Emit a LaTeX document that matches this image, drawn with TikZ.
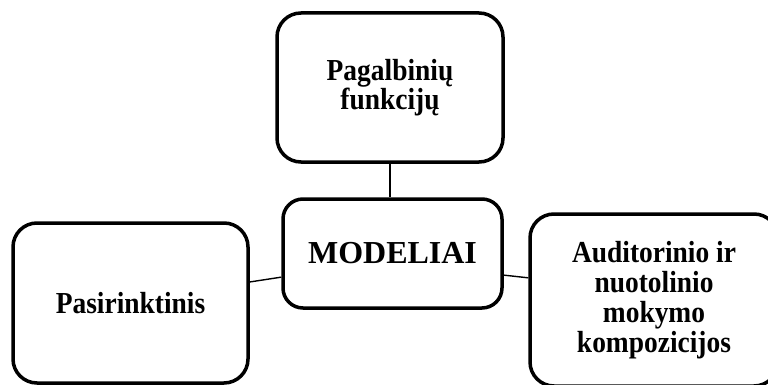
\documentclass[tikz,border=0pt]{standalone}
\usepackage{fontspec}
\setmainfont{Liberation Serif}
\newfontfamily\labelfont[FakeStretch=0.9]{Liberation Serif}
\begin{document}
\begin{tikzpicture}[x=1pt,y=-1pt,
  box/.style={draw=black,line width=3.5pt,rounded corners=24pt,fill=white,align=center,inner sep=0pt,font=\labelfont\bfseries\fontsize{30.5}{30}\selectfont},
  link/.style={draw=black,line width=1.4pt}]
\useasboundingbox (0,0) rectangle (768,385);
\clip (0,0) rectangle (768,385);
\node[box,minimum width=226pt,minimum height=149pt,font=\labelfont\bfseries\fontsize{30.5}{29}\selectfont] (top) at (390,87.5) {Pagalbinių\\funkcijų};
\node[box,minimum width=219pt,minimum height=109pt,rounded corners=20pt,font=\bfseries\fontsize{32}{33}\selectfont] (mid) at (392.5,253.5) {MODELIAI};
\node[box,minimum width=235pt,minimum height=160pt] (left) at (130.5,303) {Pasirinktinis};
\node[box,minimum width=248pt,minimum height=172pt] (right) at (654,300) {Auditorinio ir\\nuotolinio\\mokymo\\kompozicijos};
\draw[link] (top.south) -- (top.south |- mid.north);
\draw[link] (left.10) -- (mid.192);
\draw[link] (mid.-11) -- (right.170);
\end{tikzpicture}
\end{document}
